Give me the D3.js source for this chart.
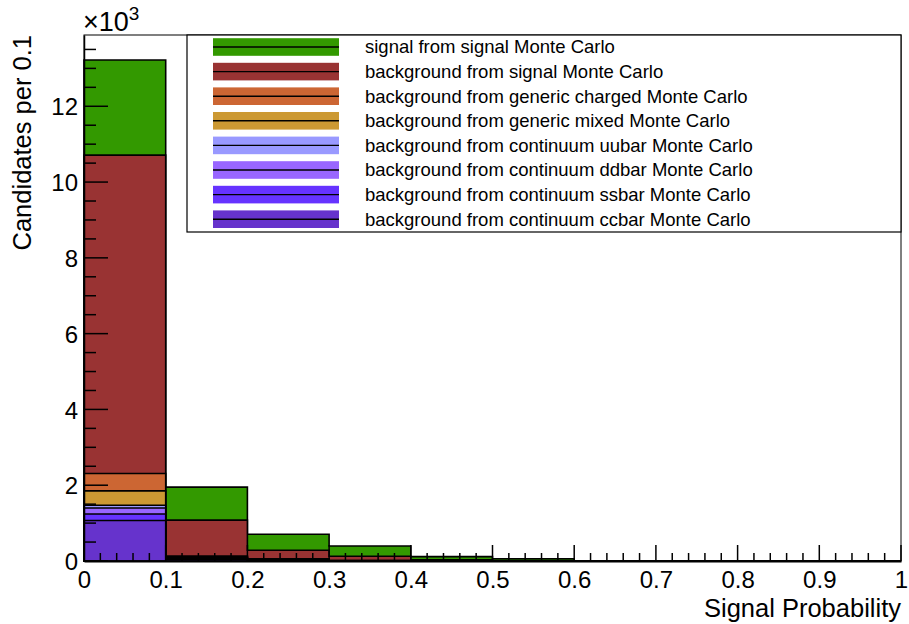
<!DOCTYPE html>
<html><head><meta charset="utf-8">
<script src="https://cdn.jsdelivr.net/npm/d3@7"></script>
<style>body{margin:0;background:#fff}svg{display:block}text{font-family:"Liberation Sans",Arial,sans-serif;fill:#000}</style>
</head><body><svg id="c" width="909" height="624"></svg>
<script>
// Bin edges of Signal Probability
const binEdges = [0,0.1,0.2,0.3,0.4,0.5,0.6,0.7,0.8,0.9,1.0];
// Series (in thousands of candidates), listed bottom -> top of the stack
const seriesNames = [
  "background from continuum ccbar Monte Carlo",
  "background from continuum ssbar Monte Carlo",
  "background from continuum ddbar Monte Carlo",
  "background from continuum uubar Monte Carlo",
  "background from generic mixed Monte Carlo",
  "background from generic charged Monte Carlo",
  "background from signal Monte Carlo",
  "signal from signal Monte Carlo"
];
const ccbar    = [1.07, 0.05, 0.015, 0.005, 0, 0, 0,0,0,0];
const ssbar    = [0.17, 0.02, 0.01, 0, 0, 0, 0,0,0,0];
const ddbar    = [0.16, 0.01, 0.005, 0, 0, 0, 0,0,0,0];
const uubar    = [0.07, 0.01, 0.005, 0, 0, 0, 0,0,0,0];
const mixed    = [0.38, 0.02, 0.01, 0.005, 0, 0, 0,0,0,0];
const charged  = [0.46, 0.02, 0.01, 0.005, 0, 0, 0,0,0,0];
const bgSignal = [8.40, 0.95, 0.23, 0.11, 0.03, 0.01, 0,0,0,0];
const signal   = [2.51, 0.87, 0.42, 0.27, 0.085, 0.05, 0,0,0,0];
const seriesColors = ["#6633cc","#6633ff","#9966ff","#9999ff","#cc9933","#cc6633","#993333","#339900"];
const xTickLabels = ["0","0.1","0.2","0.3","0.4","0.5","0.6","0.7","0.8","0.9","1"];
const yTickLabels = ["0","2","4","6","8","10","12"];

const series = [ccbar, ssbar, ddbar, uubar, mixed, charged, bgSignal, signal];

const svg = d3.select("#c");
const L=84, R=901, T=35, B=561;
// cumulative
const cum = [];
series.forEach((s,i)=>{ cum.push(s.map((v,j)=> v + (i>0?cum[i-1][j]:0))); });
const ymax = d3.max(cum[cum.length-1]) * 1.05;
const x = d3.scaleLinear().domain([0,1]).range([L,R]);
const y = d3.scaleLinear().domain([0,ymax]).range([B,T]);

function stepPath(vals){
  let p = `M${x(binEdges[0])},${y(0)}`;
  vals.forEach((v,j)=>{ p += `L${x(binEdges[j])},${y(v)}L${x(binEdges[j+1])},${y(v)}`; });
  p += `L${x(binEdges[binEdges.length-1])},${y(0)}Z`;
  return p;
}
// draw from top cumulative down
for(let i=cum.length-1;i>=0;i--){
  svg.append("path").attr("d", stepPath(cum[i])).attr("fill", seriesColors[i])
    .attr("stroke","#000").attr("stroke-width",1.6).attr("stroke-linejoin","miter");
}

// frame
svg.append("rect").attr("x",L).attr("y",T).attr("width",R-L).attr("height",B-T)
  .attr("fill","none").attr("stroke","#000").attr("stroke-width",1);

// x axis
const xAxis = d3.axisBottom(x).tickValues(d3.range(0,11).map(d=>d/10)).tickSize(0).tickFormat((d,i)=>xTickLabels[i]);
const gx = svg.append("g").attr("transform",`translate(0,${B})`).call(xAxis);
gx.select(".domain").attr("stroke","#000").attr("stroke-width",2);
gx.selectAll("text").style("font-size","24px").attr("dy",0).attr("y",27);
const gxt = svg.append("g");
d3.range(0,51).forEach(k=>{
  const v=k/50, major = k%5===0;
  gxt.append("line").attr("x1",x(v)).attr("x2",x(v)).attr("y1",B).attr("y2",B-(major?16:8))
    .attr("stroke","#000").attr("stroke-width",1.5);
});
// y axis
const yAxis = d3.axisLeft(y).tickValues(d3.range(0,13,2)).tickSize(0).tickFormat((d,i)=>yTickLabels[i]);
const gy = svg.append("g").attr("transform",`translate(${L},0)`).call(yAxis);
gy.select(".domain").attr("stroke","#000").attr("stroke-width",1.5);
gy.selectAll("text").style("font-size","24px").attr("x",-6).attr("dy","0.36em");
const gyt = svg.append("g");
for(let v=0; v<=ymax; v+=0.5){
  const major = Math.abs(v%2)<1e-9;
  gyt.append("line").attr("x1",L).attr("x2",L+(major?24:12)).attr("y1",y(v)).attr("y2",y(v))
    .attr("stroke","#000").attr("stroke-width",1.5);
}
// exponent
const ex = svg.append("text").attr("x",83).attr("y",31).style("font-size","27px");
ex.append("tspan").style("font-size","27px").text("×10");
ex.append("tspan").style("font-size","19px").attr("dy",-11).text("3");

// axis titles
svg.append("text").attr("x",R).attr("y",617).attr("text-anchor","end").style("font-size","25.5px").text("Signal Probability");
svg.append("text").attr("transform",`translate(31,35) rotate(-90)`).attr("text-anchor","end").style("font-size","25.5px").text("Candidates per 0.1");

// legend
const lg = svg.append("g");
lg.append("rect").attr("x",187).attr("y",35).attr("width",R-187).attr("height",197)
  .attr("fill","#fff").attr("stroke","#000").attr("stroke-width",1.2);
const legendOrder = d3.range(seriesNames.length).reverse();
legendOrder.forEach((si,k)=>{
  const cy = 47 + k*24.6;
  lg.append("rect").attr("x",213).attr("y",cy-8.8).attr("width",126).attr("height",17.6).attr("fill",seriesColors[si]);
  lg.append("line").attr("x1",213).attr("x2",339).attr("y1",cy).attr("y2",cy).attr("stroke","#000").attr("stroke-width",1.4);
  lg.append("text").attr("x",365).attr("y",cy).attr("dy","0.35em").style("font-size","18.5px").text(seriesNames[si]);
});
</script></body></html>
